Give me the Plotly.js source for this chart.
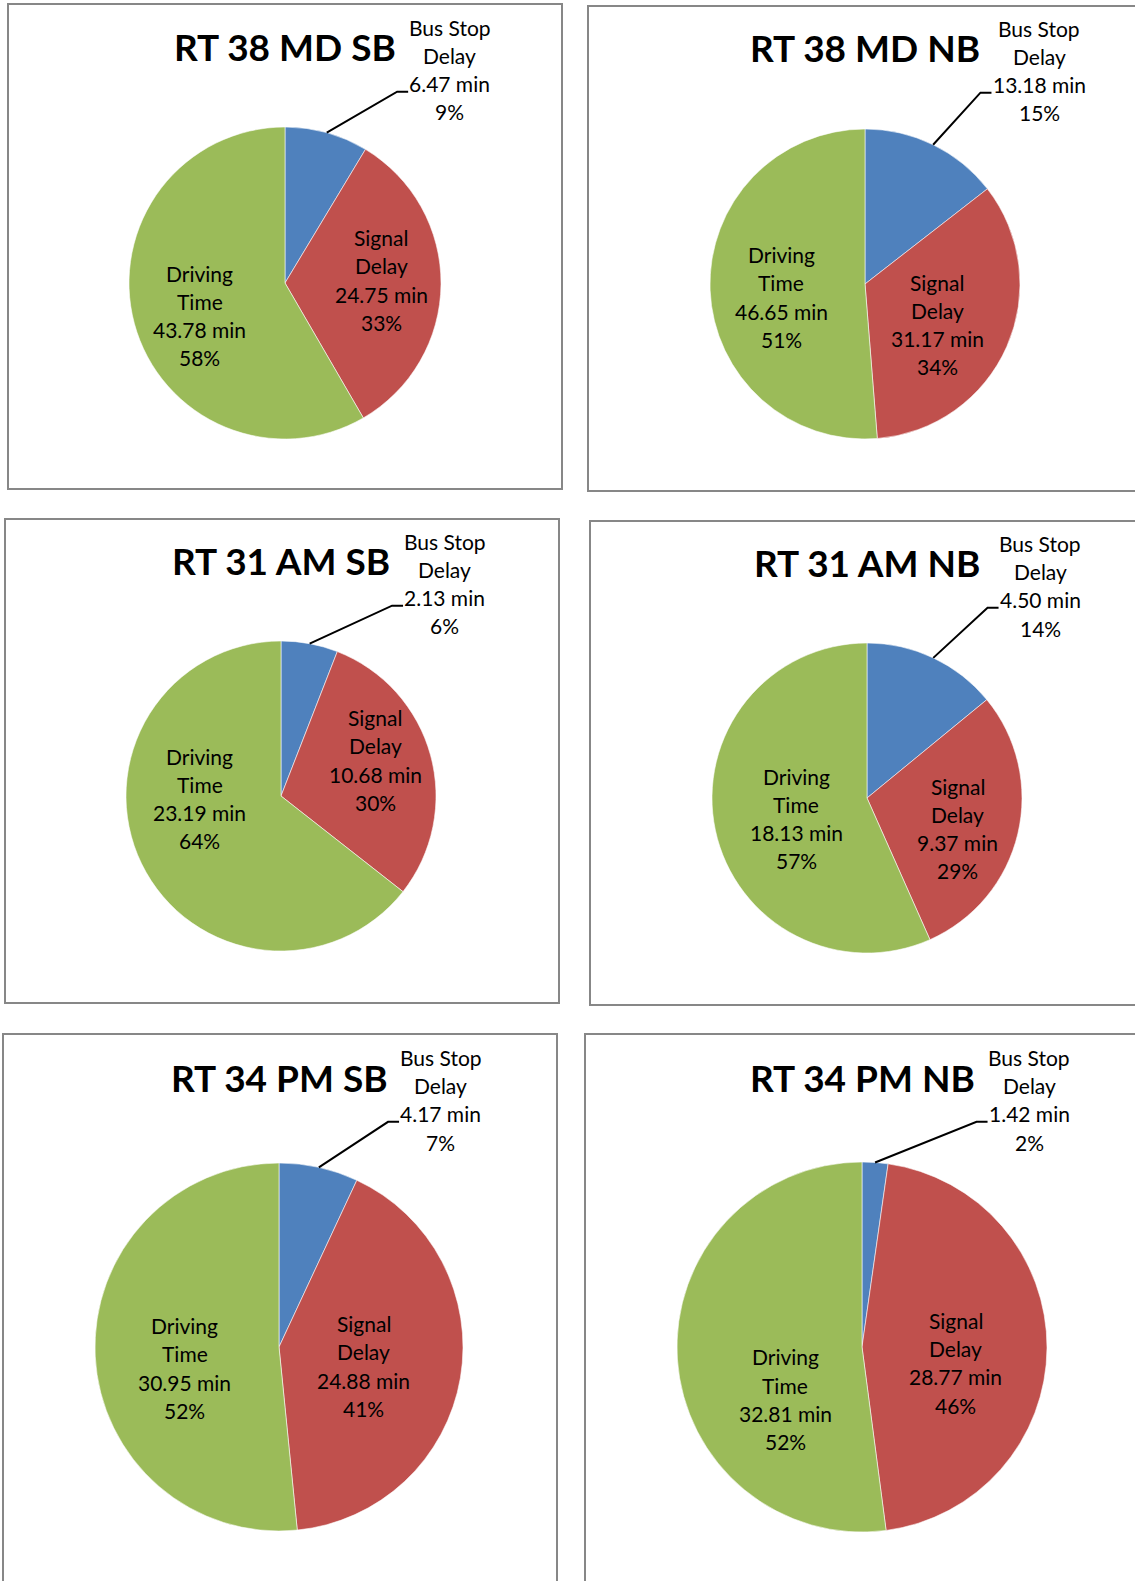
<!DOCTYPE html>
<html>
<head>
<meta charset="utf-8">
<script src="https://cdn.plot.ly/plotly-3.0.1.min.js"></script>
<style>
  html, body { margin: 0; padding: 0; background: #ffffff; }
  #chart { width: 1135px; height: 1581px; }
</style>
</head>
<body>
<div id="chart"></div>
<script>
// ---- Data: travel-time breakdown per route / period / direction (minutes) ----
const categories = ['Bus Stop Delay', 'Signal Delay', 'Driving Time'];
const chartTitles = ['RT 38 MD SB', 'RT 38 MD NB', 'RT 31 AM SB', 'RT 31 AM NB', 'RT 34 PM SB', 'RT 34 PM NB'];

const rt38MdSb = [6.47, 24.75, 43.78];
const rt38MdNb = [13.18, 31.17, 46.65];
const rt31AmSb = [2.13, 10.68, 23.19];
const rt31AmNb = [4.50, 9.37, 18.13];
const rt34PmSb = [4.17, 24.88, 30.95];
const rt34PmNb = [1.42, 28.77, 32.81];

// Percent shares as printed on each chart
const pct38MdSb = [9, 33, 58];
const pct38MdNb = [15, 34, 51];
const pct31AmSb = [6, 30, 64];
const pct31AmNb = [14, 29, 57];
const pct34PmSb = [7, 41, 52];
const pct34PmNb = [2, 46, 52];

const seriesValues = [rt38MdSb, rt38MdNb, rt31AmSb, rt31AmNb, rt34PmSb, rt34PmNb];
const seriesPct = [pct38MdSb, pct38MdNb, pct31AmSb, pct31AmNb, pct34PmSb, pct34PmNb];

// ---- Styling ----
const sliceColors = ['#4F81BD', '#C0504D', '#9BBB59'];
const FONT = 'Lato, "Open Sans", "Noto Sans", sans-serif';
const LABEL_SIZE = 21;
const LINE_STEP = 28.2;
const LABEL_DY = -2;     // optical baseline correction for label text
const TITLE_DY = -2.5;   // same for the bold titles
const W = 1135, H = 1581;

// ---- Panel layout in pixels: frame box, pie centre/radius, title and label anchors ----
const panels = [
  { box: [8, 4, 562, 489],     cx: 285, cy: 283,  r: 156, titleY: 49,   bus: [164.6, -211.4], sig: [96, -1],     drv: [-85.4, 34.5] },
  { box: [588, 6, 1145, 491],  cx: 865, cy: 284,  r: 155, titleY: 50.4, bus: [174, -211.4],   sig: [72.4, 42.6], drv: [-83.8, 14.9] },
  { box: [5, 519, 559, 1003],  cx: 281, cy: 796,  r: 155, titleY: 562.5, bus: [163.5, -210.4], sig: [94, -34],   drv: [-81.4, 4.4] },
  { box: [590, 521, 1145, 1005], cx: 867, cy: 798, r: 155, titleY: 564.5, bus: [173, -210.3], sig: [90.6, 32.6], drv: [-70.7, 22.5] },
  { box: [3, 1034, 557, 1600], cx: 279, cy: 1347, r: 184, titleY: 1079.6, bus: [161.5, -245.3], sig: [84.9, 20.9], drv: [-94.5, 22.9] },
  { box: [585, 1034, 1145, 1600], cx: 862, cy: 1347, r: 185, titleY: 1079.6, bus: [167, -245.3], sig: [93.6, 17.8], drv: [-76.8, 54.1] }
];

const px = x => x / W;
const py = y => 1 - y / H;

const measureCtx = document.createElement('canvas').getContext('2d');
measureCtx.font = LABEL_SIZE + 'px Lato';
const textWidth = s => measureCtx.measureText(s).width;

function labelLines(name, value, pct) {
  const cut = name.lastIndexOf(' ');
  return [name.slice(0, cut), name.slice(cut + 1), value.toFixed(2) + ' min', pct + '%'];
}

const traces = [];
const annotations = [];
const shapes = [];

function addLines(lines, cx, cy) {
  lines.forEach((t, i) => {
    annotations.push({
      xref: 'paper', yref: 'paper',
      x: px(cx), y: py(cy + (i - 1.5) * LINE_STEP + LABEL_DY),
      xanchor: 'center', yanchor: 'middle',
      text: t, showarrow: false,
      font: { family: FONT, size: LABEL_SIZE, color: '#000000' }
    });
  });
}

panels.forEach((p, k) => {
  const vals = seriesValues[k];
  const pcts = seriesPct[k];
  const total = vals.reduce((a, b) => a + b, 0);

  // frame
  shapes.push({
    type: 'rect', xref: 'paper', yref: 'paper', layer: 'below',
    x0: px(p.box[0]), x1: px(p.box[2]), y0: py(p.box[3]), y1: py(p.box[1]),
    line: { color: '#878787', width: 2 }, fillcolor: 'rgba(0,0,0,0)'
  });

  // pie
  traces.push({
    type: 'pie',
    labels: categories,
    values: vals,
    sort: false,
    direction: 'clockwise',
    rotation: 0,
    textinfo: 'none',
    hoverinfo: 'label+value+percent',
    showlegend: false,
    marker: { colors: sliceColors, line: { color: 'rgba(255,255,255,0.7)', width: 0.8 } },
    domain: {
      x: [px(p.cx - p.r), px(p.cx + p.r)],
      y: [py(p.cy + p.r), py(p.cy - p.r)]
    }
  });

  // chart title
  annotations.push({
    xref: 'paper', yref: 'paper', x: px(p.cx), y: py(p.titleY + TITLE_DY),
    xanchor: 'center', yanchor: 'middle', showarrow: false,
    text: chartTitles[k],
    font: { family: FONT, size: 37, color: '#000000', weight: 700 }
  });

  // slice labels
  const busLines = labelLines(categories[0], vals[0], pcts[0]);
  const bx = p.cx + p.bus[0], by = p.cy + p.bus[1];
  addLines(busLines, bx, by);
  addLines(labelLines(categories[1], vals[1], pcts[1]), p.cx + p.sig[0], p.cy + p.sig[1]);
  addLines(labelLines(categories[2], vals[2], pcts[2]), p.cx + p.drv[0], p.cy + p.drv[1]);

  // leader line: from the middle of the first slice's arc to the label
  const mid = (vals[0] / total) * Math.PI;          // half of slice sweep, clockwise from 12 o'clock
  const ex = p.cx + p.r * Math.sin(mid);
  const ey = p.cy - p.r * Math.cos(mid);
  const textLeft = bx - textWidth(busLines[2]) / 2;
  const ly = by + 0.5 * LINE_STEP + 6;
  const kx = textLeft - 12;
  shapes.push({
    type: 'path', xref: 'paper', yref: 'paper', layer: 'above',
    path: 'M ' + px(ex) + ',' + py(ey) + ' L ' + px(kx) + ',' + py(ly) + ' L ' + px(textLeft - 1) + ',' + py(ly),
    line: { color: '#000000', width: 2 }
  });
});

const layout = {
  width: W, height: H,
  margin: { l: 0, r: 0, t: 0, b: 0, pad: 0 },
  paper_bgcolor: '#ffffff',
  plot_bgcolor: '#ffffff',
  showlegend: false,
  annotations: annotations,
  shapes: shapes
};

Plotly.newPlot('chart', traces, layout, { displayModeBar: false, staticPlot: true });
</script>
</body>
</html>
